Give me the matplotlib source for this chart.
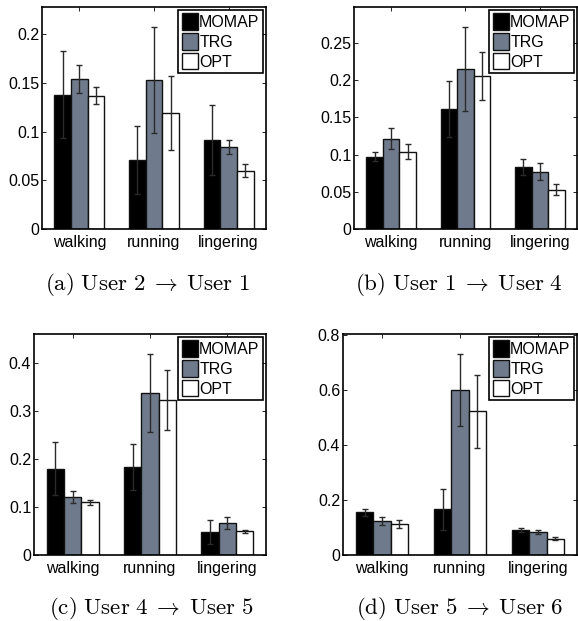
import matplotlib
matplotlib.use("Agg")
import matplotlib.pyplot as plt
from matplotlib import font_manager
from matplotlib.ticker import FormatStrFormatter
from matplotlib.patches import Patch
import numpy as np

# activity groups and methods
categories = ["walking", "running", "lingering"]
methods = ["MOMAP", "TRG", "OPT"]
colors = ["#000000", "#6f7b8d", "#ffffff"]

# (a) User 2 -> User 1
a_vals = [[0.138, 0.071, 0.091], [0.154, 0.153, 0.084], [0.137, 0.119, 0.060]]
a_errs = [[0.045, 0.035, 0.036], [0.0145, 0.054, 0.0074], [0.0085, 0.0377, 0.0065]]
# (b) User 1 -> User 4
b_vals = [[0.097, 0.161, 0.083], [0.121, 0.2145, 0.077], [0.104, 0.2055, 0.053]]
b_errs = [[0.006, 0.038, 0.0104], [0.014, 0.056, 0.0117], [0.0095, 0.032, 0.008]]
# (c) User 4 -> User 5
c_vals = [[0.180, 0.183, 0.047], [0.120, 0.337, 0.066], [0.110, 0.323, 0.049]]
c_errs = [[0.055, 0.048, 0.025], [0.0125, 0.081, 0.0125], [0.005, 0.062, 0.0035]]
# (d) User 5 -> User 6
d_vals = [[0.156, 0.166, 0.092], [0.124, 0.601, 0.084], [0.113, 0.524, 0.059]]
d_errs = [[0.013, 0.075, 0.0073], [0.016, 0.131, 0.0085], [0.014, 0.133, 0.0048]]

captions = [r"$\mathrm{(a)\ User\ 2}\;\rightarrow\;\mathrm{User\ 1}$",
            r"$\mathrm{(b)\ User\ 1}\;\rightarrow\;\mathrm{User\ 4}$",
            r"$\mathrm{(c)\ User\ 4}\;\rightarrow\;\mathrm{User\ 5}$",
            r"$\mathrm{(d)\ User\ 5}\;\rightarrow\;\mathrm{User\ 6}$"]
ylims = [0.228, 0.298, 0.46, 0.805]
yticks = [[0, 0.05, 0.1, 0.15, 0.2], [0, 0.05, 0.1, 0.15, 0.2, 0.25],
          [0, 0.1, 0.2, 0.3, 0.4], [0, 0.2, 0.4, 0.6, 0.8]]

installed = {f.name for f in font_manager.fontManager.ttflist}
sans = "Liberation Sans Narrow" if "Liberation Sans Narrow" in installed else "Liberation Sans"
narrow = sans == "Liberation Sans Narrow"
plt.rcParams["font.family"] = sans
plt.rcParams["mathtext.fontset"] = "cm"

W, H = 578, 621
fig = plt.figure(figsize=(W / 100, H / 100), dpi=100)

# axes boxes in pixels: left, right, top, bottom
boxes = [(42, 266, 7, 229), (354, 577, 7, 229), (34, 266, 334, 555), (343, 577, 334, 555)]
cap_pos = [(148, 284), (459, 284), (151, 609), (460, 609)]

data = [(a_vals, a_errs), (b_vals, b_errs), (c_vals, c_errs), (d_vals, d_errs)]
x = np.arange(1, len(categories) + 1)
bw = 0.224
tick_fs = 12.5 if narrow else 11.5
leg_fs = 13.5 if narrow else 11.5

for i, (vals, errs) in enumerate(data):
    l, r, t, b = boxes[i]
    ax = fig.add_axes([l / W, 1 - b / H, (r - l) / W, (b - t) / H])
    for j, m in enumerate(methods):
        ax.bar(x + (j - 1) * bw, vals[j], bw, color=colors[j], edgecolor="#111111",
               linewidth=1.0, zorder=2)
        ax.errorbar(x + (j - 1) * bw, vals[j], yerr=errs[j], fmt="none",
                    ecolor="#2a2a2a", elinewidth=1.0, capsize=2, capthick=1.0, zorder=3)
    ax.set_xlim(0.5, 3.5)
    ax.set_ylim(0, ylims[i])
    ax.set_xticks(x)
    ax.set_xticklabels(categories, fontsize=tick_fs)
    ax.set_yticks(yticks[i])
    ax.yaxis.set_major_formatter(FormatStrFormatter("%g"))
    ax.tick_params(direction="in", length=3, width=0.6, top=True, right=True,
                   labelsize=tick_fs, pad=2)
    ax.tick_params(axis="x", pad=4)
    for s in ax.spines.values():
        s.set_linewidth(1.2)
    handles = [Patch(facecolor=colors[j], edgecolor="#111111", label=methods[j])
               for j in range(3)]
    leg = ax.legend(handles=handles, loc="upper right", fontsize=leg_fs,
                    handlelength=1.0, handleheight=1.2, handletextpad=0.1,
                    labelspacing=0.2, borderpad=0.2, borderaxespad=0.2,
                    fancybox=False, framealpha=1)
    leg.get_frame().set_edgecolor("black")
    leg.get_frame().set_linewidth(1.2)
    cx, cy = cap_pos[i]
    fig.text(cx / W, 1 - cy / H, captions[i], fontsize=16.5, ha="center", va="center")

fig.savefig("out.png", dpi=100)
